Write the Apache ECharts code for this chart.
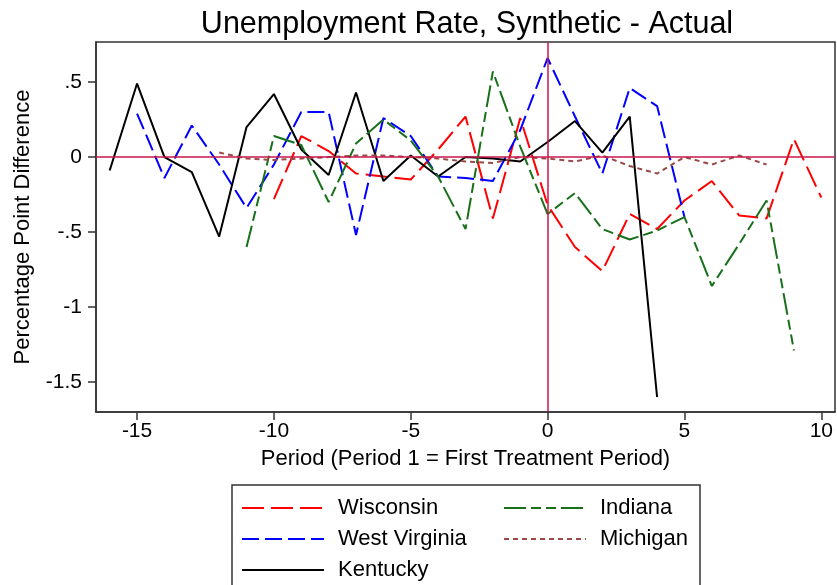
<!DOCTYPE html>
<html>
<head>
<meta charset="utf-8">
<script src="https://cdn.jsdelivr.net/npm/echarts@6/dist/echarts.min.js"></script>
<style>
  html, body { margin: 0; padding: 0; background: #fff; }
  #chart { width: 837px; height: 585px; }
</style>
</head>
<body>
<div id="chart"></div>
<script>
// values, one array per state, with its first period
var wisconsinStart = -10;
var wisconsin = [-0.28, 0.14, 0.04, -0.11, -0.13, -0.15, 0.05, 0.27, -0.41, 0.26, -0.32, -0.60, -0.76, -0.38, -0.48, -0.29, -0.16, -0.39, -0.41, 0.12, -0.27];
var westVirginiaStart = -15;
var westVirginia = [0.29, -0.14, 0.21, -0.05, -0.34, -0.05, 0.30, 0.30, -0.52, 0.26, 0.14, -0.13, -0.14, -0.16, 0.18, 0.66, 0.27, -0.11, 0.46, 0.34, -0.40];
var kentuckyStart = -16;
var kentucky = [-0.09, 0.49, 0.0, -0.10, -0.53, 0.20, 0.42, 0.05, -0.12, 0.43, -0.16, 0.01, -0.13, 0.0, -0.01, -0.03, 0.10, 0.24, 0.03, 0.27, -1.60];
var indianaStart = -11;
var indiana = [-0.60, 0.14, 0.08, -0.30, 0.09, 0.25, 0.11, -0.13, -0.48, 0.57, 0.07, -0.38, -0.24, -0.48, -0.55, -0.49, -0.40, -0.86, -0.58, -0.29, -1.29];
var michiganStart = -12;
var michigan = [0.03, -0.01, -0.02, -0.01, 0.0, 0.01, 0.01, 0.0, -0.01, -0.03, -0.04, 0.0, -0.01, -0.03, 0.01, -0.06, -0.11, 0.0, -0.05, 0.01, -0.05];

var xTicks = [-15, -10, -5, 0, 5, 10];
var yTicks = [-1.5, -1, -0.5, 0, 0.5];

var FONT = 'Liberation Sans';

function pairs(start, vals) {
  var out = [];
  for (var i = 0; i < vals.length; i++) {
    out.push([start + i, vals[i]]);
  }
  return out;
}

function lineSeries(name, start, vals, color, dash) {
  return {
    name: name,
    type: 'line',
    data: pairs(start, vals),
    symbol: 'none',
    showSymbol: false,
    z: 3,
    lineStyle: { color: color, width: 2, type: dash },
    itemStyle: { color: color }
  };
}

var chart = echarts.init(document.getElementById('chart'));

var legendText = { fontFamily: FONT, fontSize: 22, color: '#000', lineHeight: 22, padding: [0, 0, 0, 9] };

// legend is two vertical columns inside one drawn box
function legendCol(names, left) {
  return {
    data: names,
    orient: 'vertical',
    left: left, top: 497,
    height: 120,
    padding: 0,
    itemWidth: 82, itemHeight: 14, itemGap: 9,
    itemStyle: { opacity: 0 },
    textStyle: legendText
  };
}

var option = {
  backgroundColor: '#fff',
  animation: false,
  title: {
    text: 'Unemployment Rate, Synthetic - Actual',
    left: 462,
    textAlign: 'center',
    top: 4,
    textStyle: { fontFamily: FONT, fontSize: 30.5, fontWeight: 'normal', color: '#000' }
  },
  grid: {
    left: 96, right: 2, top: 42, bottom: 173,
    show: true, borderColor: '#333', borderWidth: 1.5
  },
  xAxis: {
    type: 'value',
    min: -16.5,
    max: 10.5,
    name: 'Period (Period 1 = First Treatment Period)',
    nameLocation: 'middle',
    nameGap: 36,
    nameTextStyle: { fontFamily: FONT, fontSize: 22, color: '#000' },
    axisLine: { show: true, onZero: false, lineStyle: { color: '#333', width: 1.5 } },
    axisTick: { show: true, length: 8, customValues: xTicks, lineStyle: { color: '#333', width: 1.5 } },
    axisLabel: { customValues: xTicks, margin: 9, fontFamily: FONT, fontSize: 21, color: '#000' },
    splitLine: { show: false }
  },
  yAxis: {
    type: 'value',
    min: -1.7,
    max: 0.767,
    name: 'Percentage Point Difference',
    nameLocation: 'middle',
    nameGap: 62,
    nameTextStyle: { fontFamily: FONT, fontSize: 22, color: '#000' },
    axisLine: { show: true, onZero: false, lineStyle: { color: '#333', width: 1.5 } },
    axisTick: { show: true, length: 8, customValues: yTicks, lineStyle: { color: '#333', width: 1.5 } },
    axisLabel: {
      customValues: yTicks,
      margin: 14,
      fontFamily: FONT, fontSize: 21, color: '#000',
      formatter: function (v) {
        return String(v).replace('0.', '.');
      }
    },
    splitLine: { show: false }
  },
  legend: [
    legendCol(['Wisconsin', 'West Virginia', 'Kentucky'], 241),
    legendCol(['Indiana', 'Michigan'], 503)
  ],
  graphic: [{
    type: 'rect',
    shape: { x: 232, y: 485, width: 468, height: 140 },
    style: { fill: 'none', stroke: '#333', lineWidth: 1.5 },
    silent: true
  }],
  series: [
    {
      name: 'ref',
      type: 'line',
      data: [],
      z: 1,
      markLine: {
        silent: true,
        symbol: ['none', 'none'],
        label: { show: false },
        lineStyle: { color: '#c8174a', width: 1.5, type: 'solid' },
        data: [{ yAxis: 0 }, { xAxis: 0 }]
      }
    },
    lineSeries('Wisconsin', wisconsinStart, wisconsin, '#ff0000', [22, 7]),
    lineSeries('West Virginia', westVirginiaStart, westVirginia, '#0000ff', [17, 6]),
    lineSeries('Kentucky', kentuckyStart, kentucky, '#000000', 'solid'),
    lineSeries('Indiana', indianaStart, indiana, '#19701a', [22, 5, 10, 5, 10, 5]),
    lineSeries('Michigan', michiganStart, michigan, '#9a4848', [5, 4])
  ]
};

chart.setOption(option);
</script>
</body>
</html>
